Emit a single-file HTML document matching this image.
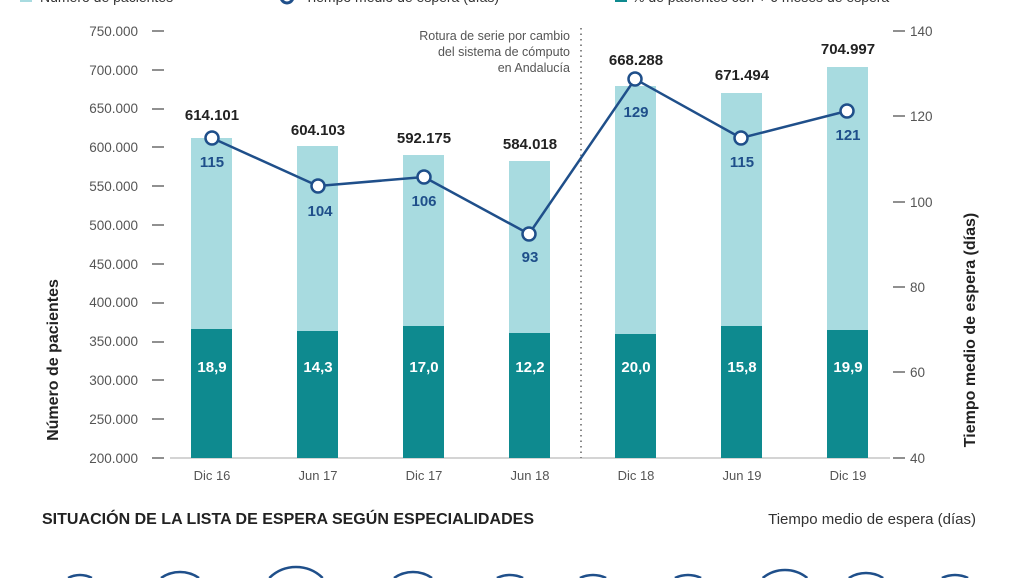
<!DOCTYPE html>
<html><head><meta charset="utf-8"><style>
html,body{margin:0;background:#fff;overflow:hidden;width:1027px;height:578px;}
svg{display:block;}
svg text{font-family:"Liberation Sans",sans-serif;}
</style></head><body>
<svg width="1027" height="578" viewBox="0 0 1027 578" xmlns="http://www.w3.org/2000/svg">
<rect width="1027" height="578" fill="#fff"/>
<rect x="20" y="-8" width="12" height="10" fill="#a8dbe0"/>
<text x="40" y="2" font-size="14" fill="#333">Número de pacientes</text>
<circle cx="287" cy="-3" r="6" fill="#fff" stroke="#1f4f8a" stroke-width="3"/>
<text x="305" y="2" font-size="14" fill="#333">Tiempo medio de espera (días)</text>
<rect x="615" y="-8" width="12" height="10" fill="#0e8a8f"/>
<text x="632" y="2" font-size="14" fill="#333">% de pacientes con + 6 meses de espera</text>

<g font-size="13.5" fill="#555" text-anchor="end">
<text x="138" y="36">750.000</text><text x="138" y="75">700.000</text><text x="138" y="113">650.000</text><text x="138" y="152">600.000</text><text x="138" y="191">550.000</text><text x="138" y="230">500.000</text><text x="138" y="269">450.000</text><text x="138" y="307">400.000</text><text x="138" y="346">350.000</text><text x="138" y="385">300.000</text><text x="138" y="424">250.000</text><text x="138" y="463">200.000</text>
</g>
<g stroke="#555" stroke-width="1.3">
<line x1="152" x2="164" y1="31" y2="31"/><line x1="152" x2="164" y1="70" y2="70"/><line x1="152" x2="164" y1="109" y2="109"/><line x1="152" x2="164" y1="147" y2="147"/><line x1="152" x2="164" y1="186" y2="186"/><line x1="152" x2="164" y1="225" y2="225"/><line x1="152" x2="164" y1="264" y2="264"/><line x1="152" x2="164" y1="303" y2="303"/><line x1="152" x2="164" y1="342" y2="342"/><line x1="152" x2="164" y1="380" y2="380"/><line x1="152" x2="164" y1="419" y2="419"/><line x1="152" x2="164" y1="458" y2="458"/>
<line x1="893" x2="905" y1="31" y2="31"/><line x1="893" x2="905" y1="116" y2="116"/><line x1="893" x2="905" y1="202" y2="202"/><line x1="893" x2="905" y1="287" y2="287"/><line x1="893" x2="905" y1="372" y2="372"/><line x1="893" x2="905" y1="458" y2="458"/>
</g>
<g font-size="13.5" fill="#555">
<text x="910" y="36">140</text><text x="910" y="121">120</text><text x="910" y="207">100</text><text x="910" y="292">80</text><text x="910" y="377">60</text><text x="910" y="463">40</text>
</g>
<text transform="translate(58,360) rotate(-90)" font-size="16" font-weight="bold" fill="#222" text-anchor="middle">Número de pacientes</text>
<text transform="translate(975,330) rotate(-90)" font-size="16" font-weight="bold" fill="#222" text-anchor="middle">Tiempo medio de espera (días)</text>

<line x1="170" x2="890" y1="458" y2="458" stroke="#aaa" stroke-width="1"/>

<g fill="#a8dbe0">
<rect x="191" y="138" width="41" height="320"/>
<rect x="297" y="146" width="41" height="312"/>
<rect x="403" y="155" width="41" height="303"/>
<rect x="509" y="161" width="41" height="297"/>
<rect x="615" y="86" width="41" height="372"/>
<rect x="721" y="93" width="41" height="365"/>
<rect x="827" y="67" width="41" height="391"/>
</g>
<g fill="#0e8a8f">
<rect x="191" y="329" width="41" height="129"/>
<rect x="297" y="331" width="41" height="127"/>
<rect x="403" y="326" width="41" height="132"/>
<rect x="509" y="333" width="41" height="125"/>
<rect x="615" y="334" width="41" height="124"/>
<rect x="721" y="326" width="41" height="132"/>
<rect x="827" y="330" width="41" height="128"/>
</g>
<g font-size="15" font-weight="bold" fill="#fff" text-anchor="middle">
<text x="212" y="372">18,9</text><text x="318" y="372">14,3</text><text x="424" y="372">17,0</text><text x="530" y="372">12,2</text><text x="636" y="372">20,0</text><text x="742" y="372">15,8</text><text x="848" y="372">19,9</text>
</g>
<g font-size="15" font-weight="bold" fill="#222" text-anchor="middle">
<text x="212" y="120">614.101</text><text x="318" y="135">604.103</text><text x="424" y="143">592.175</text><text x="530" y="149">584.018</text><text x="636" y="65">668.288</text><text x="742" y="80">671.494</text><text x="848" y="54">704.997</text>
</g>
<g font-size="13" fill="#555" text-anchor="middle">
<text x="212" y="480">Dic 16</text><text x="318" y="480">Jun 17</text><text x="424" y="480">Dic 17</text><text x="530" y="480">Jun 18</text><text x="636" y="480">Dic 18</text><text x="742" y="480">Jun 19</text><text x="848" y="480">Dic 19</text>
</g>

<line x1="581" x2="581" y1="28" y2="458" stroke="#888" stroke-width="2" stroke-dasharray="1.5,4"/>
<g font-size="12.5" fill="#555" text-anchor="end">
<text x="570" y="40">Rotura de serie por cambio</text>
<text x="570" y="56">del sistema de cómputo</text>
<text x="570" y="72">en Andalucía</text>
</g>

<polyline points="212,138 318,186 424,177 529,234 635,79 741,138 847,111" fill="none" stroke="#1f4f8a" stroke-width="2.5"/>
<g fill="#fff" stroke="#1f4f8a" stroke-width="2.5">
<circle cx="212" cy="138" r="6.5"/><circle cx="318" cy="186" r="6.5"/><circle cx="424" cy="177" r="6.5"/><circle cx="529" cy="234" r="6.5"/><circle cx="635" cy="79" r="6.5"/><circle cx="741" cy="138" r="6.5"/><circle cx="847" cy="111" r="6.5"/>
</g>
<g font-size="15" font-weight="bold" fill="#1f4f8a" text-anchor="middle">
<text x="212" y="167">115</text><text x="320" y="216">104</text><text x="424" y="206">106</text><text x="530" y="262">93</text><text x="636" y="117">129</text><text x="742" y="167">115</text><text x="848" y="140">121</text>
</g>

<text x="42" y="524" font-size="16" font-weight="bold" fill="#222" textLength="492">SITUACIÓN DE LA LISTA DE ESPERA SEGÚN ESPECIALIDADES</text>
<text x="976" y="524" font-size="15" fill="#333" text-anchor="end">Tiempo medio de espera (días)</text>
<g fill="none" stroke="#1f4f8a" stroke-width="2.5">
<path d="M68.1,578 A25,25 0 0 1 91.9,578"/>
<path d="M161,578 A33,33 0 0 1 199,578"/>
<path d="M269.3,578 A38,38 0 0 1 322.7,578"/>
<path d="M394,578 A33,33 0 0 1 432,578"/>
<path d="M496.9,578 A30,30 0 0 1 523.1,578"/>
<path d="M579.9,578 A30,30 0 0 1 606.1,578"/>
<path d="M674.9,578 A30,30 0 0 1 701.1,578"/>
<path d="M762.7,578 A35,35 0 0 1 807.3,578"/>
<path d="M848.8,578 A32,32 0 0 1 883.2,578"/>
<path d="M941.9,578 A30,30 0 0 1 968.1,578"/>
</g>
</svg>
</body></html>
